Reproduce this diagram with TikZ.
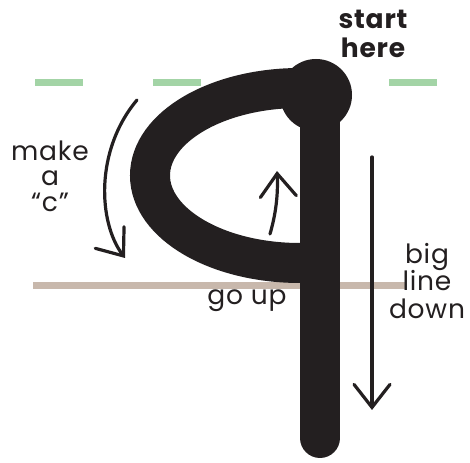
\documentclass[tikz,border=0pt]{standalone}
\usepackage{fontspec}
\setmainfont{Poppins}[LetterSpace=3]
\usetikzlibrary{arrows.meta}
\definecolor{ink}{RGB}{35,31,32}
\definecolor{dashgreen}{RGB}{163,212,166}
\definecolor{basetan}{RGB}{200,184,172}

\begin{document}
\begin{tikzpicture}[x=1pt,y=1pt,
  guide/.style={line width=7pt},
  hint/.style={ink,line width=3.2pt,line cap=round,-{Straight Barb[length=23pt,width=36pt,line cap=round]}},
  lbl/.style={ink,font=\fontsize{26.5}{27}\selectfont,align=center,inner sep=0pt}]
\useasboundingbox (0,0) rectangle (470,462);
% guide lines
\foreach \x in {35,153,271,389}{\draw[dashgreen,guide] (\x,379)--+(48,0);}
\draw[basetan,guide] (33,176.5)--(405,176.5);
% the letter q
\coordinate (dot) at (316,367);
\coordinate (bowltop) at (300,374);
\coordinate (foot) at (320,24);
\draw[ink,line width=40pt] (dot)--(bowltop) arc[start angle=90,end angle=270,x radius=150,y radius=87.5]--++(12,0);
\draw[ink,line width=40pt,line cap=round] (320,367)--(foot);
\fill[ink] (dot) circle (36);
% stroke hints
\coordinate (c0) at (137,362);
\coordinate (c1) at (125,204);
\draw[hint] (c0) .. controls (95,312) and (98,240) .. (c1);
\coordinate (u0) at (270,228);
\coordinate (u1) at (277,291);
\draw[hint] (u0) .. controls (277,252) and (278,272) .. (u1);
\coordinate (d0) at (372,305);
\coordinate (d1) at (372,52);
\draw[hint] (d0)--(d1);
% labels
\node[lbl,font=\fontsize{26.5}{29}\selectfont\bfseries] (start) at (373,428) {start\\here};
\node[lbl,font=\fontsize{26.5}{25.5}\selectfont] (makec) at (50,286) {make\\a\\“c”};
\node[lbl,font=\fontsize{26.5}{27.5}\selectfont] (bigline) at (427,181) {big\\line\\down};
\node[lbl] (goup) at (247,161) {go up};
\end{tikzpicture}
\end{document}
